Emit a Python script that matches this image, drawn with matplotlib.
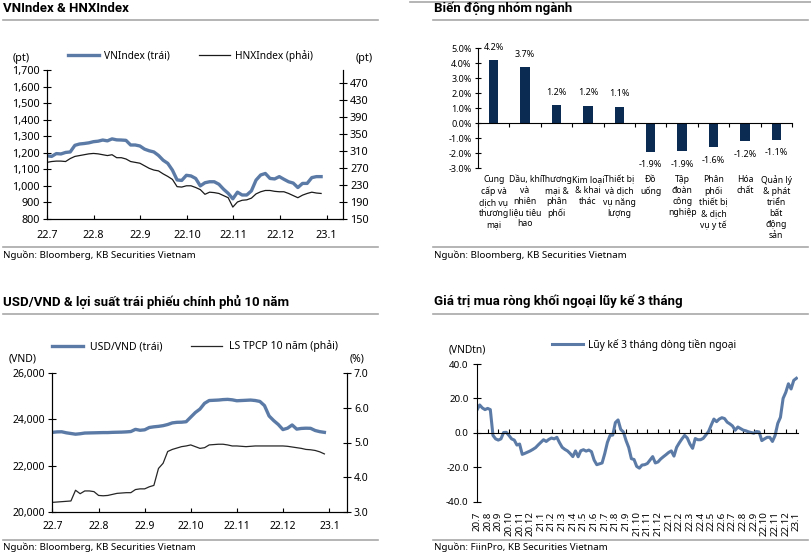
import numpy as np
import matplotlib
matplotlib.use("Agg")
import matplotlib.pyplot as plt
from matplotlib.lines import Line2D

plt.rcParams['font.family'] = ['Noto Sans', 'DejaVu Sans']

# ---------------- data ----------------
months_1 = ['22.7', '22.8', '22.9', '22.10', '22.11', '22.12', '23.1']
vnindex = [1182, 1178, 1195, 1193, 1202, 1205, 1245, 1253, 1256, 1260,
           1267, 1270, 1277, 1272, 1284, 1278, 1277, 1275, 1247, 1247,
           1241, 1222, 1212, 1205, 1184, 1155, 1136, 1095, 1036, 1033,
           1064, 1060, 1045, 1000, 1019, 1025, 1025, 1010, 980, 955,
           922, 962, 945, 945, 970, 1035, 1066, 1075, 1045, 1042,
           1056, 1040, 1025, 1017, 990, 1015, 1015, 1050, 1056, 1056]
hnxindex = [283, 285, 286, 286, 285, 292, 297, 299, 301, 303,
            304, 303, 301, 299, 301, 294, 294, 291, 285, 283,
            281, 275, 269, 265, 263, 256, 250, 243, 226, 225,
            228, 228, 224, 219, 208, 213, 212, 210, 205, 200,
            178, 190, 194, 195, 199, 209, 214, 217, 217, 215,
            214, 214, 210, 205, 200, 206, 210, 213, 211, 210]

sectors = ["Cung\ncấp và\ndịch vụ\nthương\nmại", "Dầu, khí\nvà\nnhiên\nliệu tiêu\nhao",
           "Thương\nmại &\nphân\nphối", "Kim loại\n& khai\nthác",
           "Thiết bị\nvà dịch\nvụ năng\nlượng", "Đồ\nuống", "Tập\nđoàn\ncông\nnghiệp",
           "Phân\nphối\nthiết bị\n& dịch\nvụ y tế", "Hóa\nchất",
           "Quản lý\n& phát\ntriển\nbất\nđộng\nsản"]
sector_change = [4.22, 3.72, 1.20, 1.16, 1.10, -1.90, -1.88, -1.61, -1.21, -1.12]

usdvnd = [23440, 23460, 23465, 23420, 23390, 23360, 23380, 23410, 23415, 23420,
          23425, 23430, 23430, 23440, 23445, 23450, 23460, 23475, 23570, 23530,
          23550, 23650, 23680, 23700, 23730, 23780, 23850, 23875, 23880, 23900,
          24100, 24300, 24450, 24700, 24820, 24830, 24840, 24860, 24870, 24850,
          24810, 24820, 24830, 24840, 24820, 24780, 24600, 24150, 23950, 23780,
          23560, 23620, 23760, 23580, 23610, 23620, 23615, 23520, 23470, 23440]
bond10y = [3.27, 3.28, 3.29, 3.30, 3.31, 3.62, 3.52, 3.60, 3.60, 3.58,
           3.47, 3.46, 3.47, 3.50, 3.53, 3.54, 3.55, 3.55, 3.64, 3.66,
           3.66, 3.72, 3.76, 4.25, 4.40, 4.74, 4.80, 4.84, 4.88, 4.90,
           4.93, 4.88, 4.83, 4.85, 4.93, 4.94, 4.95, 4.95, 4.93, 4.90,
           4.90, 4.89, 4.88, 4.89, 4.90, 4.90, 4.90, 4.90, 4.90, 4.90,
           4.90, 4.89, 4.87, 4.85, 4.83, 4.80, 4.79, 4.77, 4.73, 4.67]

months_4 = ['20.7', '20.8', '20.9', '20.10', '20.11', '20.12', '21.1', '21.2', '21.3',
            '21.4', '21.5', '21.6', '21.7', '21.8', '21.9', '21.10', '21.11', '21.12',
            '22.1', '22.2', '22.3', '22.4', '22.5', '22.6', '22.7', '22.8', '22.9',
            '22.10', '22.11', '22.12', '23.1']
foreign_flow = [13.3, 16.2, 14.5, 13.5, 14.2, 13.5, -1.5, -3.5, -4.2, -3.5,
                0.2, 0.3, -1.5, -3.5, -4.2, -7.1, -6.5, -12.5, -11.9, -11.2,
                -10.5, -9.6, -8.6, -7.0, -5.5, -4.0, -5.0, -3.8, -3.0, -3.5,
                -2.6, -5.7, -8.4, -9.6, -10.5, -12.0, -13.8, -10.5, -13.9, -10.4,
                -9.8, -10.6, -10.0, -10.9, -15.8, -18.5, -18.0, -17.5, -12.0, -5.5,
                -1.5, -1.3, 6.0, 7.5, 2.0, 0.5, -4.5, -8.5, -15.0, -15.5,
                -19.5, -20.5, -18.7, -18.5, -17.8, -15.8, -13.8, -17.5, -16.9, -15.2,
                -13.9, -12.7, -11.4, -10.5, -13.5, -8.4, -5.8, -3.5, -1.5, -3.0,
                -6.5, -9.0, -3.3, -4.0, -4.0, -3.2, -1.2, 0.8, 4.5, 8.0,
                6.5, 8.0, 8.8, 8.3, 6.2, 5.2, 4.0, 1.5, 3.4, 2.5,
                1.6, 1.2, 0.6, 0.2, -0.2, 0.8, 0.5, -4.5, -3.5, -2.6,
                -2.6, -5.0, -1.5, 5.5, 9.0, 20.0, 23.5, 28.5, 25.5, 30.5,
                31.7]

# ---------------- style ----------------
W, H = 812, 556
BLUE = '#5b7ba6'
NAVY = '#0b2b52'
RULE = '#a8a8a8'
FS = 7

fig = plt.figure(figsize=(W / 100, H / 100), dpi=100)


def fx(x):
    return x / W


def fy(y):
    return 1 - y / H


def rect(l, t, r, b):
    return [l / W, 1 - b / H, (r - l) / W, (b - t) / H]


def hrule(x0, x1, y):
    fig.add_artist(Line2D([fx(x0), fx(x1)], [fy(y), fy(y)], transform=fig.transFigure,
                          color=RULE, lw=1.2))


def title(x, y, s):
    fig.text(fx(x), fy(y), s, fontsize=9.5, fontweight='bold', ha='left', va='center',
             family=['Roboto', 'DejaVu Sans'])


def source(x, y, s):
    fig.text(fx(x), fy(y), s, fontsize=FS, ha='left', va='center')


# frames, titles, sources
hrule(410, 812, 1.5)
for (x0, x1) in [(3, 378), (433, 808)]:
    hrule(x0, x1, 20)
    hrule(x0, x1, 247)
    hrule(x0, x1, 313.5)
    hrule(x0, x1, 539.5)
title(3, 8.5, "VNIndex & HNXIndex")
title(434, 8.5, "Biến động nhóm ngành")
title(3, 301.5, "USD/VND & lợi suất trái phiếu chính phủ 10 năm")
title(434, 301.5, "Giá trị mua ròng khối ngoại lũy kế 3 tháng")
source(3, 255.5, "Nguồn: Bloomberg, KB Securities Vietnam")
source(434, 255.5, "Nguồn: Bloomberg, KB Securities Vietnam")
source(3, 547, "Nguồn: Bloomberg, KB Securities Vietnam")
source(434, 547, "Nguồn: FiinPro, KB Securities Vietnam")

# ---------------- panel 1 ----------------
ax1 = fig.add_axes(rect(47, 70, 343, 219))
x1 = np.linspace(0, 5.88, len(vnindex))
ax1.plot(x1, vnindex, color=BLUE, lw=2.4, solid_joinstyle='round')
ax1.set_xlim(0, 6.35)
ax1.set_ylim(800, 1700)
yt = list(range(800, 1701, 100))
ax1.set_yticks(yt, [f'{v:,}' for v in yt])
ax1.set_xticks(range(len(months_1)), months_1)
ax1r = ax1.twinx()
ax1r.plot(x1, hnxindex, color='#1a1a1a', lw=0.9)
ax1r.set_ylim(150, 500)
ax1r.set_yticks(range(150, 471, 40))
for a in (ax1, ax1r):
    a.spines['top'].set_visible(False)
    a.tick_params(axis='y', direction='inout', length=6, labelsize=7.8, pad=2)
    a.tick_params(axis='x', direction='in', length=3, labelsize=7.8, pad=8)
fig.text(fx(21), fy(58), "(pt)", fontsize=7.8, ha='center', va='center')
fig.text(fx(364), fy(59), "(pt)", fontsize=7.8, ha='center', va='center')
fig.legend([Line2D([], [], color=BLUE, lw=2.4), Line2D([], [], color='#1a1a1a', lw=0.9)],
           ["VNIndex (trái)", "HNXIndex (phải)"], loc='center left',
           bbox_to_anchor=(fx(68), fy(56)), ncol=2, frameon=False, fontsize=7.3,
           handlelength=3.1, handletextpad=0.5, columnspacing=2.8,
           borderpad=0, borderaxespad=0)

# ---------------- panel 2 ----------------
ax2 = fig.add_axes(rect(478, 48.3, 792, 168))
xc = np.arange(len(sectors))
bars = ax2.bar(xc, sector_change, width=0.3, color=NAVY)
ax2.bar_label(bars, labels=[f'{v:.1f}%' for v in sector_change], padding=6, fontsize=6.5)
ax2.set_xlim(-0.5, len(sectors) - 0.5)
ax2.set_ylim(-3, 5)
yt2 = list(range(-3, 6))
ax2.set_yticks(yt2, [f'{v:.1f}%' for v in yt2])
ax2.spines['top'].set_visible(False)
ax2.spines['right'].set_visible(False)
ax2.spines['bottom'].set_position(('data', 0))
ax2.set_xticks(np.arange(len(sectors) + 1) - 0.5)
ax2.tick_params(axis='x', direction='out', length=3, labelbottom=False)
ax2.tick_params(axis='y', direction='inout', length=5, labelsize=6.5, pad=2)
sec2 = ax2.secondary_xaxis('bottom')
sec2.set_xticks(xc, sectors)
sec2.spines['bottom'].set_visible(False)
sec2.tick_params(length=0, pad=5, labelsize=6.2)
plt.setp(sec2.get_xticklabels(), linespacing=1.3)

# ---------------- panel 3 ----------------
ax3 = fig.add_axes(rect(52.5, 373.3, 347, 511.7))
x3 = np.linspace(0, 5.89, len(usdvnd))
ax3.plot(x3, usdvnd, color=BLUE, lw=2.4, solid_joinstyle='round')
ax3.set_xlim(0, 6.38)
ax3.set_ylim(20000, 26000)
yt3 = list(range(20000, 26001, 2000))
ax3.set_yticks(yt3, [f'{v:,}' for v in yt3])
ax3.set_xticks(range(len(months_1)), months_1)
ax3r = ax3.twinx()
ax3r.plot(x3, bond10y, color='#262626', lw=0.9)
ax3r.set_ylim(3, 7)
yt3r = [3.0, 4.0, 5.0, 6.0, 7.0]
ax3r.set_yticks(yt3r, [f'{v:.1f}' for v in yt3r])
for a in (ax3, ax3r):
    a.spines['top'].set_visible(False)
    a.tick_params(axis='y', direction='inout', length=6, labelsize=7.5, pad=2)
    a.tick_params(axis='x', direction='in', length=3, labelsize=7.5, pad=7)
fig.text(fx(23), fy(359), "(VND)", fontsize=7.5, ha='center', va='center')
fig.text(fx(357), fy(359), "(%)", fontsize=7.5, ha='center', va='center')
fig.legend([Line2D([], [], color=BLUE, lw=2.4), Line2D([], [], color='#262626', lw=0.9)],
           ["USD/VND (trái)", "LS TPCP 10 năm (phải)"], loc='center left',
           bbox_to_anchor=(fx(52), fy(346.5)), ncol=2, frameon=False, fontsize=7.5,
           handlelength=3.0, handletextpad=0.6, columnspacing=2.8,
           borderpad=0, borderaxespad=0)

# ---------------- panel 4 ----------------
ax4 = fig.add_axes(rect(477, 364, 798, 501.7))
x4 = np.arange(len(foreign_flow)) * 0.25
ax4.plot(x4, foreign_flow, color=BLUE, lw=2.2, solid_joinstyle='round')
ax4.set_xlim(0, 30.15)
ax4.set_ylim(-40, 40)
yt4 = [-40, -20, 0, 20, 40]
ax4.set_yticks(yt4, [f'{v:.1f}' for v in yt4])
ax4.spines['top'].set_visible(False)
ax4.spines['right'].set_visible(False)
ax4.spines['bottom'].set_position(('data', 0))
ax4.set_xticks(range(len(months_4)))
ax4.tick_params(axis='x', direction='in', length=3, labelbottom=False)
ax4.tick_params(axis='y', direction='inout', length=6, labelsize=7, pad=3)
sec4 = ax4.secondary_xaxis('bottom')
sec4.set_xticks(range(len(months_4)), months_4, rotation=90)
sec4.spines['bottom'].set_visible(False)
sec4.tick_params(length=0, pad=7, labelsize=7)
fig.text(fx(467), fy(350.5), "(VNDtn)", fontsize=7.3, ha='center', va='center')
fig.legend([Line2D([], [], color=BLUE, lw=2.2)], ["Lũy kế 3 tháng dòng tiền ngoại"],
           loc='center left', bbox_to_anchor=(fx(552), fy(345)), frameon=False, fontsize=7.3,
           handlelength=3.1, handletextpad=0.5, borderpad=0, borderaxespad=0)

fig.savefig("out.png", dpi=100)
